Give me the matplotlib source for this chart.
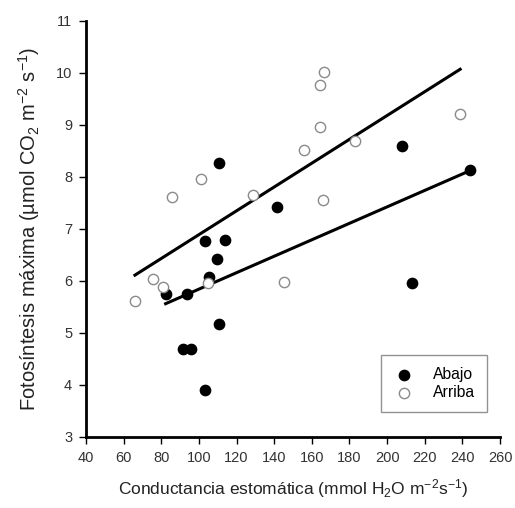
import numpy as np
import matplotlib
matplotlib.use("Agg")
import matplotlib.pyplot as plt

plt.rcParams["font.family"] = ["Liberation Sans", "DejaVu Sans"]
plt.rcParams["mathtext.fontset"] = "custom"
plt.rcParams["mathtext.rm"] = "Liberation Sans"
plt.rcParams["mathtext.it"] = "Liberation Sans:italic"
plt.rcParams["mathtext.default"] = "rm"

# Abajo (filled)
abajo_x = [110.5, 141.6, 207.9, 243.8, 103.4, 114.1, 109.6, 105.2,
           82.3, 93.9, 110.9, 91.4, 96.0, 103.1, 213.4]
abajo_y = [8.26, 7.42, 8.60, 8.13, 6.77, 6.79, 6.42, 6.07,
           5.75, 5.75, 5.17, 4.69, 4.69, 3.90, 5.96]

# Arriba (open)
arriba_x = [85.6, 101.0, 128.9, 155.6, 164.2, 166.7, 164.2, 165.7,
            183.0, 238.8, 66.0, 75.7, 80.8, 105.0, 145.1]
arriba_y = [7.61, 7.96, 7.66, 8.51, 9.76, 10.01, 8.95, 7.56,
            8.69, 9.20, 5.62, 6.04, 5.89, 5.96, 5.97]

x_ticks = list(range(40, 261, 20))
y_ticks = list(range(3, 12))

fig = plt.figure(figsize=(5.15, 5.08), dpi=100)
ax = fig.add_axes([0.167, 0.14, 0.804, 0.819])

# regression lines over each group's range
for xs, ys in [(arriba_x, arriba_y), (abajo_x, abajo_y)]:
    xs = np.array(xs)
    b, a = np.polyfit(xs, ys, 1)
    xx = np.array([xs.min(), xs.max()])
    ax.plot(xx, a + b * xx, color="black", lw=2.2, zorder=2)

ax.scatter(abajo_x, abajo_y, s=55, color="black", edgecolor="black",
           lw=1, label="Abajo", zorder=3)
ax.scatter(arriba_x, arriba_y, s=55, facecolor="white", edgecolor="#8a8a8a",
           lw=1, label="Arriba", zorder=3)

ax.set_xlim(40, 260)
ax.set_ylim(3, 11)
ax.set_xticks(x_ticks)
ax.set_yticks(y_ticks)
ax.spines["top"].set_visible(False)
ax.spines["right"].set_visible(False)
ax.spines["left"].set_linewidth(2)
ax.spines["bottom"].set_linewidth(2)
ax.tick_params(direction="out", length=5, width=1, labelsize=10.5,
               labelcolor="#333333", pad=5)

ax.set_xlabel("Conductancia estomática (mmol H$_2$O m$^{-2}$s$^{-1}$)",
              fontsize=12.5, color="#222222", labelpad=9)
ax.set_ylabel("Fotosíntesis máxima (µmol CO$_2$ m$^{-2}$ s$^{-1}$)",
              fontsize=14.5, color="#222222", labelpad=10)

leg = ax.legend(loc="lower right", bbox_to_anchor=(0.969, 0.06),
                borderaxespad=0, fontsize=11.3, frameon=True, fancybox=False,
                handlelength=1.4, handletextpad=1.2, borderpad=0.75,
                labelspacing=0.2)
leg.get_frame().set_edgecolor("#777777")
leg.get_frame().set_linewidth(1)

fig.savefig("out.png", dpi=100)
